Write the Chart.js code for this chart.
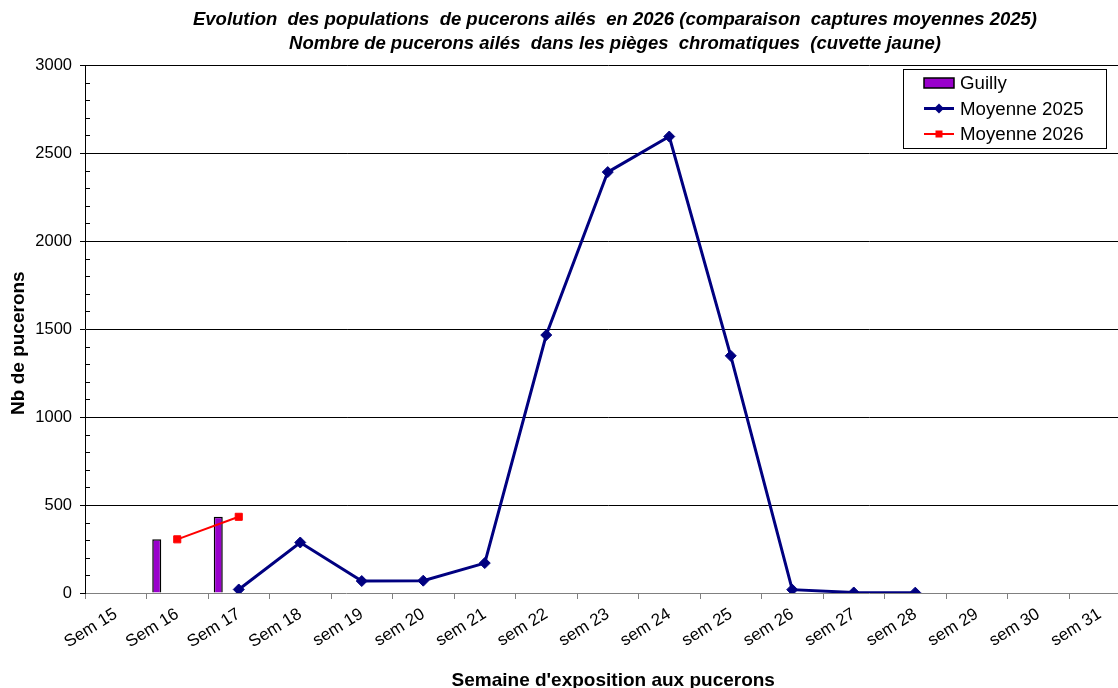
<!DOCTYPE html>
<html>
<head>
<meta charset="utf-8">
<script src="https://cdn.jsdelivr.net/npm/chart.js@4/dist/chart.umd.min.js"></script>
<style>
  body { margin: 0; overflow: hidden; background: #fff; }
  #wrap { width: 1230px; height: 692px; }
</style>
</head>
<body>
<div id="wrap"><canvas id="chart" width="1230" height="692"></canvas></div>
<script>
  /* donnees */
  var semaines = ["Sem 15", "Sem 16", "Sem 17", "Sem 18", "sem 19", "sem 20", "sem 21", "sem 22",
    "sem 23", "sem 24", "sem 25", "sem 26", "sem 27", "sem 28", "sem 29", "sem 30", "sem 31"];
  var guilly = [null, 305, 433, null, null, null, null, null, null, null, null, null, null, null, null, null, null];
  var moyenne2025 = [null, null, 20, 287, 68, 70, 170, 1466, 2392, 2594, 1348, 19, 3, 2, null, null, null];
  var moyenne2026 = [null, 305, 433, null, null, null, null, null, null, null, null, null, null, null, null, null, null];
  var yTicks = [0, 500, 1000, 1500, 2000, 2500, 3000];

  var titre = [
    "Evolution  des populations  de pucerons ailés  en 2026 (comparaison  captures moyennes 2025)",
    "Nombre de pucerons ailés  dans les pièges  chromatiques  (cuvette jaune)"
  ];
  var titreY = "Nb de pucerons";
  var titreX = "Semaine d'exposition aux pucerons";

  Chart.defaults.font.family = "'Liberation Sans', Arial, sans-serif";
  Chart.defaults.color = "#000";

  // 5 empty bar series so that Guilly sits on the left of the cluster (like the sheet)
  var vide = semaines.map(function () { return null; });
  var barres = [{
    type: "bar", label: "Guilly", data: guilly, order: 1,
    backgroundColor: "#9900cc", borderColor: "#000", borderWidth: 1.5
  }];
  for (var i = 0; i < 5; i++) {
    barres.push({ type: "bar", label: "", data: vide, order: 1, backgroundColor: "#9900cc" });
  }

  /* legend drawn like the excel one */
  var legendeBox = {
    id: "legendeBox",
    afterDraw: function (chart) {
      var ctx = chart.ctx;
      var items = chart.data.datasets.filter(function (d) { return d.label; });
      items.sort(function (a, b) { return (a.type === "bar" ? 0 : 1) - (b.type === "bar" ? 0 : 1); });
      var x = 903.5, y = 69.5, w = 203, h = 79;
      ctx.save();
      ctx.fillStyle = "#fff";
      ctx.fillRect(x, y, w, h);
      ctx.strokeStyle = "#000";
      ctx.lineWidth = 1;
      ctx.strokeRect(x, y, w, h);
      ctx.font = "18.7px 'Liberation Sans', Arial, sans-serif";
      ctx.textBaseline = "middle";
      items.forEach(function (d, k) {
        var cy = 83 + k * 25.5;
        if (d.type === "bar") {
          ctx.fillStyle = d.backgroundColor;
          ctx.fillRect(924, cy - 5, 30, 10);
          ctx.strokeStyle = "#000";
          ctx.lineWidth = 1.5;
          ctx.strokeRect(924, cy - 5, 30, 10);
        } else {
          ctx.strokeStyle = d.borderColor;
          ctx.lineWidth = d.borderWidth;
          ctx.beginPath();
          ctx.moveTo(924, cy);
          ctx.lineTo(954, cy);
          ctx.stroke();
          ctx.fillStyle = d.pointBackgroundColor;
          if (d.pointStyle === "rectRot") {
            ctx.beginPath();
            ctx.moveTo(939, cy - 5);
            ctx.lineTo(944, cy);
            ctx.lineTo(939, cy + 5);
            ctx.lineTo(934, cy);
            ctx.closePath();
            ctx.fill();
          } else {
            ctx.fillRect(935.5, cy - 3.5, 7, 7);
          }
        }
        ctx.fillStyle = "#000";
        ctx.fillText(d.label, 960, cy + 1);
      });
      ctx.restore();
    }
  };

  /* petites graduations de l'axe y (tous les 100) + titres des axes */
  var petitesGrad = {
    id: "petitesGrad",
    afterDatasetsDraw: function (chart) {
      var s = chart.scales.y;
      var sx = chart.scales.x;
      var ctx = chart.ctx;
      ctx.save();
      ctx.strokeStyle = "#000";
      ctx.lineWidth = 1;
      for (var v = 100; v < 3000; v += 100) {
        if (v % 500 === 0) continue;
        var py = Math.round(s.getPixelForValue(v)) + 0.5;
        ctx.beginPath();
        ctx.moveTo(s.right, py);
        ctx.lineTo(s.right + 5, py);
        ctx.stroke();
      }
      ctx.font = "bold 19px 'Liberation Sans', Arial, sans-serif";
      ctx.fillStyle = "#000";
      ctx.textAlign = "center";
      ctx.textBaseline = "middle";
      // titre x
      ctx.fillText(titreX, (sx.left + sx.right) / 2 + 5.5, sx.bottom - 11);
      // titre y un peu plus bas que le milieu, comme dans le classeur
      ctx.translate(18.5, s.getPixelForValue(1420));
      ctx.rotate(-Math.PI / 2);
      ctx.fillText(titreY, 0, 0);
      ctx.restore();
    }
  };

  new Chart("chart", {
    data: {
      labels: semaines,
      datasets: [
        {
          type: "line", label: "Moyenne 2025", data: moyenne2025, order: 0,
          borderColor: "#000080", backgroundColor: "#000080", borderWidth: 3,
          pointStyle: "rectRot", pointRadius: 5.5, pointBackgroundColor: "#000080",
          pointBorderColor: "#000080", pointBorderWidth: 1, spanGaps: false
        },
        {
          type: "line", label: "Moyenne 2026", data: moyenne2026, order: 0,
          borderColor: "#ff0000", backgroundColor: "#ff0000", borderWidth: 2,
          pointStyle: "rect", pointRadius: 5, pointBackgroundColor: "#ff0000",
          pointBorderColor: "#ff0000", pointBorderWidth: 1
        }
      ].concat(barres)
    },
    options: {
      responsive: false,
      animation: false,
      categoryPercentage: 0.8,
      barPercentage: 1.1,
      layout: { padding: 0 },
      plugins: {
        legend: { display: false },
        tooltip: { enabled: false },
        title: {
          display: true,
          text: titre,
          font: { size: 18.5, weight: "bold", style: "italic", lineHeight: 1.3 },
          color: "#000",
          padding: { top: 8, bottom: 9 }
        }
      },
      scales: {
        x: {
          type: "category",
          position: "bottom",
          offset: true,
          grid: { display: true, drawOnChartArea: false, drawTicks: true, tickLength: 6, color: "#808080", offset: true },
          border: { display: true, color: "#808080", width: 1 },
          ticks: { font: { size: 17 }, color: "#000", autoSkip: false, maxRotation: 32, minRotation: 32, padding: 5 },
          title: { display: false },
          afterFit: function (s) { s.height = 99; }
        },
        y: {
          position: "left",
          min: 0, max: 3000,
          afterBuildTicks: function (s) { s.ticks = yTicks.map(function (v) { return { value: v }; }); },
          grid: {
            color: function (c) { return c.tick && c.tick.value === 0 ? "rgba(0,0,0,0)" : "#000"; },
            lineWidth: 1, drawTicks: true, tickLength: 5, tickColor: "#000"
          },
          border: { display: true, color: "#000", width: 1 },
          ticks: {
            font: { size: 16.5 }, color: "#000", padding: 8,
            callback: function (v) { return String(v); }
          },
          title: { display: false },
          afterFit: function (s) { s.width = 85; }
        },
        marge: {
          position: "right",
          display: true,
          grid: { display: false },
          border: { display: false },
          ticks: { display: false },
          afterFit: function (s) { s.width = 99.5; }
        }
      }
    },
    plugins: [legendeBox, petitesGrad]
  });
</script>
</body>
</html>
